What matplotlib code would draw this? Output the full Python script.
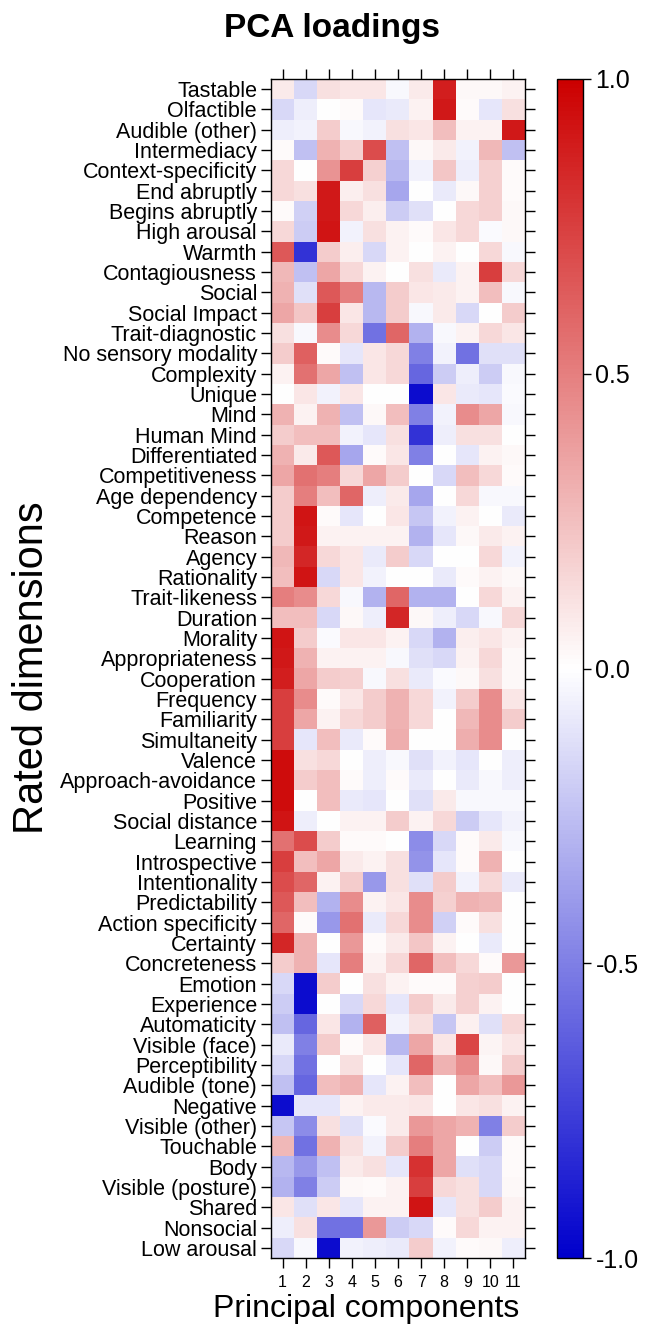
import numpy as np
import matplotlib.pyplot as plt
from matplotlib.colors import LinearSegmentedColormap

plt.rcParams['font.family'] = ['Liberation Sans', 'DejaVu Sans']

dimensions = [
    "Tastable", "Olfactible", "Audible (other)", "Intermediacy", "Context-specificity",
    "End abruptly", "Begins abruptly", "High arousal", "Warmth", "Contagiousness",
    "Social", "Social Impact", "Trait-diagnostic", "No sensory modality", "Complexity",
    "Unique", "Mind", "Human Mind", "Differentiated", "Competitiveness",
    "Age dependency", "Competence", "Reason", "Agency", "Rationality",
    "Trait-likeness", "Duration", "Morality", "Appropriateness", "Cooperation",
    "Frequency", "Familiarity", "Simultaneity", "Valence", "Approach-avoidance",
    "Positive", "Social distance", "Learning", "Introspective", "Intentionality",
    "Predictability", "Action specificity", "Certainty", "Concreteness", "Emotion",
    "Experience", "Automaticity", "Visible (face)", "Perceptibility", "Audible (tone)",
    "Negative", "Visible (other)", "Touchable", "Body", "Visible (posture)",
    "Shared", "Nonsocial", "Low arousal",
]

components = [str(i) for i in range(1, 12)]

# loadings, one row per rated dimension, columns = PC1..PC11
loadings = [
    [0.08, -0.15, 0.12, 0.10, 0.10, -0.03, 0.08, 0.88, 0.03, 0.03, 0.05],
    [-0.15, -0.07, 0.00, 0.02, -0.10, -0.08, 0.05, 0.90, 0.02, -0.10, 0.12],
    [-0.07, -0.05, 0.20, -0.03, -0.05, 0.12, 0.10, 0.25, 0.05, 0.05, 0.90],
    [0.02, -0.25, 0.30, 0.18, 0.70, -0.25, 0.03, 0.08, -0.05, 0.28, -0.25],
    [0.15, 0.00, 0.42, 0.75, 0.18, -0.28, -0.05, 0.22, -0.07, 0.18, 0.02],
    [0.15, 0.12, 0.90, 0.07, 0.12, -0.35, 0.00, -0.08, 0.03, 0.18, 0.02],
    [0.02, -0.18, 0.90, 0.15, 0.07, -0.20, -0.12, 0.00, 0.15, 0.18, 0.03],
    [0.15, -0.20, 0.92, -0.05, 0.12, 0.05, 0.02, 0.10, 0.15, -0.02, 0.03],
    [0.65, -0.80, 0.20, 0.07, -0.15, 0.05, 0.00, 0.05, 0.00, 0.15, -0.03],
    [0.28, -0.25, 0.35, 0.15, 0.05, 0.00, 0.12, -0.08, 0.05, 0.75, 0.15],
    [0.30, -0.12, 0.65, 0.50, -0.28, 0.20, 0.10, 0.08, 0.05, 0.25, -0.03],
    [0.35, 0.22, 0.75, 0.10, -0.28, 0.20, -0.03, 0.08, -0.15, 0.00, 0.20],
    [0.12, -0.03, 0.45, 0.15, -0.55, 0.60, -0.30, -0.03, 0.05, 0.15, 0.10],
    [0.20, 0.62, 0.02, -0.10, 0.10, 0.15, -0.50, -0.05, -0.55, -0.12, -0.12],
    [0.05, 0.55, 0.35, -0.25, 0.10, 0.15, -0.60, -0.20, -0.07, -0.20, -0.03],
    [0.00, 0.10, -0.05, 0.10, 0.00, 0.00, -0.95, 0.10, -0.08, -0.10, -0.02],
    [0.30, 0.05, 0.30, -0.25, 0.03, 0.25, -0.50, -0.05, 0.45, 0.35, -0.03],
    [0.20, 0.25, 0.25, -0.05, -0.10, 0.12, -0.80, -0.07, 0.12, 0.12, 0.00],
    [0.30, 0.08, 0.65, -0.35, 0.02, 0.10, -0.50, 0.00, -0.10, 0.05, 0.03],
    [0.35, 0.55, 0.50, 0.15, 0.35, 0.20, 0.00, -0.15, 0.25, 0.15, 0.02],
    [0.20, 0.50, 0.25, 0.60, -0.07, 0.08, -0.35, 0.00, 0.15, -0.03, -0.03],
    [0.20, 0.92, 0.02, -0.10, 0.00, 0.10, -0.22, -0.05, 0.05, 0.00, -0.08],
    [0.20, 0.90, 0.05, 0.05, 0.05, 0.05, -0.30, -0.10, 0.03, 0.08, 0.05],
    [0.28, 0.85, 0.15, 0.10, -0.08, 0.20, -0.15, 0.00, 0.00, 0.15, -0.05],
    [0.25, 0.92, -0.15, 0.10, -0.05, 0.00, 0.00, -0.08, 0.02, 0.05, 0.03],
    [0.50, 0.45, 0.15, -0.03, -0.30, 0.60, -0.30, -0.30, 0.00, 0.15, 0.05],
    [0.25, 0.25, -0.15, 0.03, -0.07, 0.85, 0.03, -0.07, -0.15, -0.03, 0.15],
    [0.92, 0.20, -0.02, 0.10, 0.10, 0.05, -0.15, -0.30, 0.07, 0.10, 0.05],
    [0.90, 0.30, 0.05, 0.05, 0.05, -0.03, -0.12, -0.15, 0.05, 0.15, 0.03],
    [0.88, 0.35, 0.20, 0.18, -0.03, 0.12, -0.08, -0.02, 0.03, 0.12, 0.03],
    [0.75, 0.45, 0.02, 0.10, 0.20, 0.30, 0.15, -0.05, 0.20, 0.45, 0.10],
    [0.75, 0.35, 0.05, 0.15, 0.20, 0.30, 0.15, 0.00, 0.28, 0.45, 0.20],
    [0.75, -0.10, 0.25, -0.08, 0.02, 0.32, 0.00, 0.00, 0.32, 0.45, 0.00],
    [0.95, 0.12, 0.15, 0.00, -0.07, -0.03, -0.12, -0.05, -0.10, 0.00, -0.07],
    [0.95, 0.20, 0.25, 0.02, -0.07, 0.02, -0.08, 0.00, -0.08, -0.03, -0.07],
    [0.95, 0.00, 0.25, -0.08, -0.10, 0.00, -0.12, 0.08, -0.03, -0.03, -0.03],
    [0.92, -0.07, 0.00, 0.05, 0.05, 0.20, 0.05, 0.15, -0.20, -0.10, -0.05],
    [0.55, 0.70, 0.20, 0.02, 0.02, 0.00, -0.45, -0.15, 0.02, 0.08, -0.03],
    [0.75, 0.25, 0.35, 0.08, 0.05, 0.12, -0.42, -0.10, 0.02, 0.30, 0.00],
    [0.70, 0.60, 0.05, 0.20, -0.40, 0.12, -0.12, 0.20, -0.05, 0.15, -0.08],
    [0.65, 0.25, -0.30, 0.45, 0.05, 0.10, 0.45, 0.18, 0.30, 0.28, 0.00],
    [0.60, 0.02, -0.40, 0.55, -0.08, 0.15, 0.45, -0.18, 0.02, 0.12, 0.00],
    [0.85, 0.30, 0.00, 0.40, 0.02, 0.08, 0.22, 0.05, 0.00, -0.08, 0.00],
    [0.20, 0.30, -0.10, 0.50, 0.05, 0.15, 0.60, 0.25, 0.15, 0.02, 0.40],
    [-0.15, -0.95, 0.20, 0.00, 0.12, 0.05, 0.02, 0.02, 0.18, 0.20, 0.00],
    [-0.20, -0.95, 0.00, -0.15, 0.15, -0.10, 0.20, 0.08, 0.18, 0.05, 0.00],
    [-0.25, -0.60, 0.10, -0.30, 0.62, -0.05, 0.12, -0.22, 0.06, -0.12, 0.15],
    [-0.08, -0.50, 0.20, 0.02, 0.10, -0.28, 0.35, 0.10, 0.72, 0.04, 0.10],
    [-0.15, -0.55, 0.00, 0.12, 0.00, -0.10, 0.60, 0.30, 0.45, 0.03, 0.20],
    [-0.25, -0.60, 0.25, 0.30, -0.10, 0.05, 0.25, 0.00, 0.35, 0.25, 0.40],
    [-0.95, -0.10, -0.10, 0.05, 0.08, 0.08, 0.10, 0.00, 0.10, 0.12, 0.05],
    [-0.22, -0.45, 0.12, -0.12, -0.02, 0.08, 0.40, 0.35, 0.30, -0.50, 0.20],
    [0.28, -0.55, 0.30, 0.12, -0.05, 0.20, 0.50, 0.35, 0.00, -0.20, 0.02],
    [-0.28, -0.40, -0.25, 0.08, 0.12, -0.10, 0.80, 0.35, -0.12, -0.15, 0.02],
    [-0.30, -0.50, -0.20, 0.03, 0.02, 0.05, 0.75, 0.15, 0.12, -0.15, 0.03],
    [0.10, -0.12, 0.10, -0.10, 0.05, 0.05, 0.92, -0.10, 0.12, 0.20, 0.05],
    [-0.07, 0.12, -0.55, -0.55, 0.40, -0.20, -0.15, 0.02, 0.15, 0.05, 0.05],
    [-0.15, -0.03, -0.95, -0.05, -0.07, -0.08, 0.20, -0.05, 0.02, 0.03, -0.07],
]

cbar_ticks = [-1.0, -0.5, 0.0, 0.5, 1.0]

W, H = 645, 1341
fig = plt.figure(figsize=(W / 100, H / 100), dpi=100)

cmap = LinearSegmentedColormap.from_list("bwr_lattice", ["#0000CC", "#FFFFFF", "#CC0000"])

# heatmap panel (pixel geometry)
ax = fig.add_axes([271 / W, (H - 1258) / H, 254 / W, 1179 / H])
data = np.array(loadings)
im = ax.imshow(data, cmap=cmap, vmin=-1, vmax=1, aspect="auto", interpolation="nearest")

ax.set_yticks(range(len(dimensions)))
ax.set_yticklabels(dimensions, fontsize=15.5)
ax.set_xticks(range(len(components)))
ax.set_xticklabels(components, fontsize=11.5)
ax.tick_params(direction="out", length=7, width=1, left=True, right=True,
               top=True, bottom=True, labeltop=False, labelright=False)
ax.tick_params(axis="y", pad=3)
ax.tick_params(axis="x", pad=5)
for s in ax.spines.values():
    s.set_linewidth(1.0)

fig.text(366 / W, 1 - 1309 / H, "Principal components", fontsize=23,
         ha="center", va="center")
fig.text(32 / W, 1 - 668 / H, "Rated dimensions", fontsize=30, rotation=90,
         ha="center", va="center")

# colour key
cax = fig.add_axes([557 / W, (H - 1258) / H, 26 / W, 1179 / H])
cb = fig.colorbar(im, cax=cax, ticks=cbar_ticks)
cb.ax.set_yticklabels([f"{t:.1f}" for t in cbar_ticks], fontsize=18)
cb.ax.tick_params(length=6, width=1, pad=3)
cb.outline.set_linewidth(1.0)

fig.text(332 / W, 1 - 28 / H, "PCA loadings", fontsize=24, fontweight="bold",
         ha="center", va="center")

fig.savefig("out.png", dpi=100)
